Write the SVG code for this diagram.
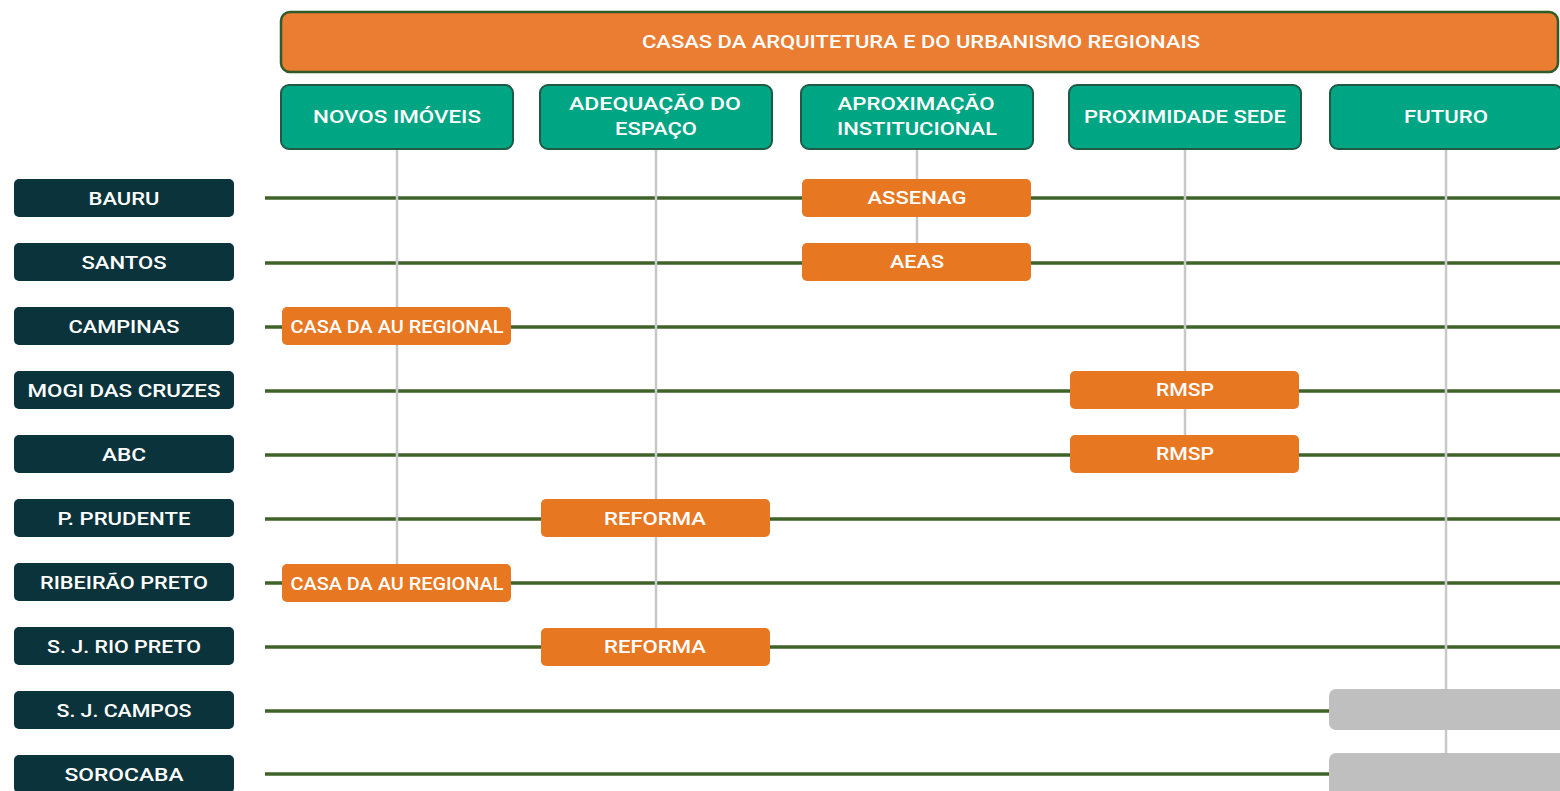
<svg xmlns="http://www.w3.org/2000/svg" width="1560" height="791" viewBox="0 0 1560 791">
<style>
text{font-family:Roboto,"Liberation Sans",Arial,sans-serif;font-weight:500;fill:#fff;text-anchor:middle;dominant-baseline:central;font-size:18px}
.hdr{fill:#ea7d32;stroke:#2f5a2a;stroke-width:2.5}
.col{fill:#00a584;stroke:#1f5a46;stroke-width:2}
.row{fill:#0b333b}
.tag{fill:#e87722}
.fut{fill:#bfbfbf}
.h{stroke:#3e6328;stroke-width:3.5;fill:none}
.v{stroke:#c8c8c8;stroke-width:2.5;fill:none}
</style>
<rect width="1560" height="791" fill="#fff"/>
<g id="connectors">
<g id="rows">
<line class="h" x1="265" y1="198" x2="1560" y2="198"/>
<line class="h" x1="265" y1="263" x2="1560" y2="263"/>
<line class="h" x1="265" y1="327" x2="1560" y2="327"/>
<line class="h" x1="265" y1="391" x2="1560" y2="391"/>
<line class="h" x1="265" y1="455" x2="1560" y2="455"/>
<line class="h" x1="265" y1="519" x2="1560" y2="519"/>
<line class="h" x1="265" y1="583" x2="1560" y2="583"/>
<line class="h" x1="265" y1="647" x2="1560" y2="647"/>
<line class="h" x1="265" y1="711" x2="1330" y2="711"/>
<line class="h" x1="265" y1="774" x2="1330" y2="774"/>
</g>
<g id="cols">
<line class="v" x1="397" y1="149" x2="397" y2="566"/>
<line class="v" x1="656" y1="149" x2="656" y2="630"/>
<line class="v" x1="917" y1="149" x2="917" y2="245"/>
<line class="v" x1="1185" y1="149" x2="1185" y2="437"/>
<line class="v" x1="1446" y1="149" x2="1446" y2="754"/>
</g>
</g>
<g id="header"><rect class="hdr" x="281" y="12" width="1277" height="60" rx="9"/><text x="921" y="41" textLength="558" lengthAdjust="spacingAndGlyphs">CASAS DA ARQUITETURA E DO URBANISMO REGIONAIS</text></g>
<g id="col-novos"><rect class="col" x="281" y="85" width="232" height="64" rx="8"/><text x="397" y="116" textLength="168" lengthAdjust="spacingAndGlyphs">NOVOS IMÓVEIS</text></g>
<g id="col-adequacao"><rect class="col" x="540" y="85" width="232" height="64" rx="8"/><text x="655" y="103" textLength="172" lengthAdjust="spacingAndGlyphs">ADEQUAÇÃO DO</text><text x="656" y="128" textLength="82" lengthAdjust="spacingAndGlyphs">ESPAÇO</text></g>
<g id="col-aproximacao"><rect class="col" x="801" y="85" width="232" height="64" rx="8"/><text x="916" y="103" textLength="157" lengthAdjust="spacingAndGlyphs">APROXIMAÇÃO</text><text x="917" y="128" textLength="160" lengthAdjust="spacingAndGlyphs">INSTITUCIONAL</text></g>
<g id="col-proximidade"><rect class="col" x="1069" y="85" width="232" height="64" rx="8"/><text x="1185" y="116" textLength="202" lengthAdjust="spacingAndGlyphs">PROXIMIDADE SEDE</text></g>
<g id="col-futuro"><rect class="col" x="1330" y="85" width="232" height="64" rx="8"/><text x="1446" y="116" textLength="84" lengthAdjust="spacingAndGlyphs">FUTURO</text></g>
<g id="r-bauru"><rect class="row" x="14" y="179" width="220" height="38" rx="5"/><text x="124" y="198" textLength="71" lengthAdjust="spacingAndGlyphs">BAURU</text></g>
<g id="r-santos"><rect class="row" x="14" y="243" width="220" height="38" rx="5"/><text x="124" y="262" textLength="85" lengthAdjust="spacingAndGlyphs">SANTOS</text></g>
<g id="r-campinas"><rect class="row" x="14" y="307" width="220" height="38" rx="5"/><text x="124" y="326" textLength="111" lengthAdjust="spacingAndGlyphs">CAMPINAS</text></g>
<g id="r-mogi"><rect class="row" x="14" y="371" width="220" height="38" rx="5"/><text x="124" y="390" textLength="193" lengthAdjust="spacingAndGlyphs">MOGI DAS CRUZES</text></g>
<g id="r-abc"><rect class="row" x="14" y="435" width="220" height="38" rx="5"/><text x="124" y="454" textLength="44" lengthAdjust="spacingAndGlyphs">ABC</text></g>
<g id="r-prudente"><rect class="row" x="14" y="499" width="220" height="38" rx="5"/><text x="124" y="518" textLength="133" lengthAdjust="spacingAndGlyphs">P. PRUDENTE</text></g>
<g id="r-ribeirao"><rect class="row" x="14" y="563" width="220" height="38" rx="5"/><text x="124" y="582" textLength="168" lengthAdjust="spacingAndGlyphs">RIBEIRÃO PRETO</text></g>
<g id="r-riopreto"><rect class="row" x="14" y="627" width="220" height="38" rx="5"/><text x="124" y="646" textLength="154" lengthAdjust="spacingAndGlyphs">S. J. RIO PRETO</text></g>
<g id="r-sjcampos"><rect class="row" x="14" y="691" width="220" height="38" rx="5"/><text x="124" y="710" textLength="135" lengthAdjust="spacingAndGlyphs">S. J. CAMPOS</text></g>
<g id="r-sorocaba"><rect class="row" x="14" y="755" width="220" height="38" rx="5"/><text x="124" y="774" textLength="119" lengthAdjust="spacingAndGlyphs">SOROCABA</text></g>
<g id="t-assenag"><rect class="tag" x="802" y="179" width="229" height="38" rx="5"/><text x="917" y="197" textLength="99" lengthAdjust="spacingAndGlyphs">ASSENAG</text></g>
<g id="t-aeas"><rect class="tag" x="802" y="243" width="229" height="38" rx="5"/><text x="917" y="261" textLength="54" lengthAdjust="spacingAndGlyphs">AEAS</text></g>
<g id="t-casa1"><rect class="tag" x="282" y="307" width="229" height="38" rx="5"/><text x="397" y="326" textLength="213" lengthAdjust="spacingAndGlyphs">CASA DA AU REGIONAL</text></g>
<g id="t-rmsp1"><rect class="tag" x="1070" y="371" width="229" height="38" rx="5"/><text x="1185" y="389" textLength="58" lengthAdjust="spacingAndGlyphs">RMSP</text></g>
<g id="t-rmsp2"><rect class="tag" x="1070" y="435" width="229" height="38" rx="5"/><text x="1185" y="453" textLength="58" lengthAdjust="spacingAndGlyphs">RMSP</text></g>
<g id="t-reforma1"><rect class="tag" x="541" y="499" width="229" height="38" rx="5"/><text x="655" y="518" textLength="102" lengthAdjust="spacingAndGlyphs">REFORMA</text></g>
<g id="t-casa2"><rect class="tag" x="282" y="564" width="229" height="38" rx="5"/><text x="397" y="583" textLength="213" lengthAdjust="spacingAndGlyphs">CASA DA AU REGIONAL</text></g>
<g id="t-reforma2"><rect class="tag" x="541" y="628" width="229" height="38" rx="5"/><text x="655" y="646" textLength="102" lengthAdjust="spacingAndGlyphs">REFORMA</text></g>
<g id="f-sjcampos"><rect class="fut" x="1329" y="689" width="240" height="41" rx="7"/></g>
<g id="f-sorocaba"><rect class="fut" x="1329" y="753" width="240" height="50" rx="7"/></g>
</svg>
